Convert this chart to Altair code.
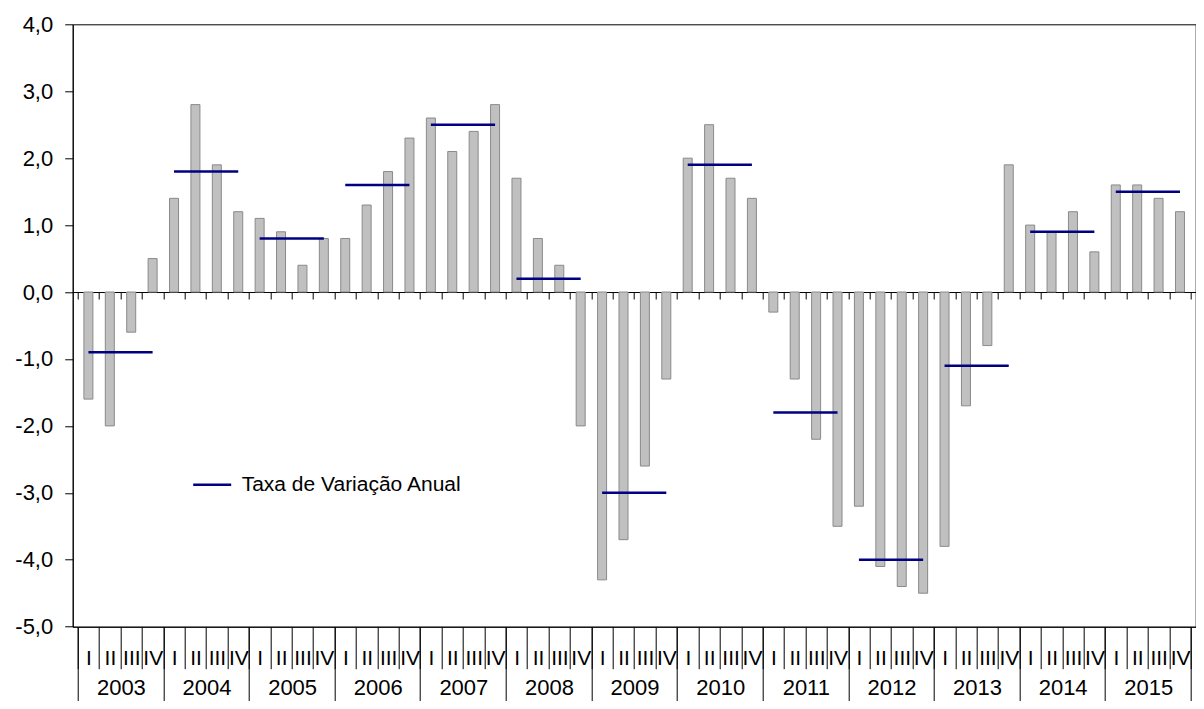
import json
import altair as alt
import pandas as pd

# ---------------- data ----------------
years = [2003, 2004, 2005, 2006, 2007, 2008, 2009, 2010, 2011, 2012, 2013, 2014, 2015]
quarter_labels = ["I", "II", "III", "IV"]
quarterly = [
    -1.6, -2.0, -0.6, 0.5,   # 2003
    1.4, 2.8, 1.9, 1.2,      # 2004
    1.1, 0.9, 0.4, 0.8,      # 2005
    0.8, 1.3, 1.8, 2.3,      # 2006
    2.6, 2.1, 2.4, 2.8,      # 2007
    1.7, 0.8, 0.4, -2.0,     # 2008
    -4.3, -3.7, -2.6, -1.3,  # 2009
    2.0, 2.5, 1.7, 1.4,      # 2010
    -0.3, -1.3, -2.2, -3.5,  # 2011
    -3.2, -4.1, -4.4, -4.5,  # 2012
    -3.8, -1.7, -0.8, 1.9,   # 2013
    1.0, 0.9, 1.2, 0.6,      # 2014
    1.6, 1.6, 1.4, 1.2,      # 2015
]
annual = [-0.9, 1.8, 0.8, 1.6, 2.5, 0.2, -3.0, 1.9, -1.8, -4.0, -1.1, 0.9, 1.5]
y_ticks = [-5, -4, -3, -2, -1, 0, 1, 2, 3, 4]
legend_label = "Taxa de Variação Anual"

# ---------------- tables ----------------
nq = len(quarterly)
bars_df = pd.DataFrame({
    "pos": [i + 0.5 for i in range(nq)],
    "valor": quarterly,
    "ano": [years[i // 4] for i in range(nq)],
    "trimestre": [quarter_labels[i % 4] for i in range(nq)],
})
annual_df = pd.DataFrame({
    "ano": years,
    "inicio": [4 * k + 0.5 for k in range(len(years))],
    "fim": [4 * k + 3.5 for k in range(len(years))],
    "taxa": annual,
    "serie": [legend_label] * len(years),
})

# ---------------- layout ----------------
W = 1123
H = 602.4
PAD = {"left": 64.7, "top": 16.3, "right": 0, "bottom": 74}
q_w = W / nq
y_min, y_max = min(y_ticks), max(y_ticks)
zero_offset = -H * (0 - y_min) / (y_max - y_min)
FONT = "Liberation Sans"

xscale = alt.Scale(domain=[0, nq], nice=False, zero=False)
yscale = alt.Scale(domain=[y_min, y_max], nice=False, zero=False)

q_expr = "datum.value < %d ? %s[datum.value %% 4] : ''" % (nq, json.dumps(quarter_labels))
yr_expr = "datum.value < %d ? %s[floor(datum.value / 4)] : ''" % (nq, json.dumps([str(y) for y in years]))

zero_axis = alt.Axis(
    orient="bottom", offset=zero_offset, values=list(range(nq + 1)),
    tickSize=7, labels=False, grid=False, title=None,
    domainColor="black", tickColor="black", domainWidth=1, tickWidth=1,
)
quarter_axis = alt.Axis(
    orient="bottom", offset=0, values=list(range(nq + 1)),
    tickSize=42, labelPadding=-21, labelOffset=q_w / 2, labelExpr=q_expr,
    labelFont=FONT, labelFontSize=21, labelColor="black",
    labelFlush=False, labelOverlap=False, labelBound=False,
    grid=False, title=None, domainColor="black", tickColor="black",
    domainWidth=1, tickWidth=1,
)
year_axis = alt.Axis(
    orient="bottom", offset=0, values=list(range(0, nq + 1, 4)),
    tickSize=PAD["bottom"], labelPadding=51 - PAD["bottom"], labelOffset=2 * q_w,
    labelExpr=yr_expr,
    labelFont=FONT, labelFontSize=22, labelColor="black",
    labelFlush=False, labelOverlap=False, labelBound=False,
    grid=False, title=None, domain=False, tickColor="black", tickWidth=1,
)
y_axis = alt.Axis(
    orient="left",
    values=y_ticks, labelExpr="(datum.value < 0 ? '-' : '') + abs(datum.value) + ',0'",
    tickSize=8, labelPadding=12, labelFont=FONT, labelFontSize=22, labelColor="black",
    labelOverlap=False, labelFlush=False,
    grid=False, title=None, domainColor="black", tickColor="black",
    domainWidth=1, tickWidth=1,
)

bars = alt.Chart(bars_df).mark_bar(
    size=9, fill="#c0c0c0", stroke="#8a8a8a", strokeWidth=1
).encode(
    x=alt.X("pos:Q", scale=xscale, axis=zero_axis),
    y=alt.Y("valor:Q", scale=yscale, axis=y_axis),
)

lines = alt.Chart(annual_df).mark_rule(strokeWidth=2.5).encode(
    x=alt.X("inicio:Q", scale=xscale, axis=quarter_axis),
    x2="fim:Q",
    y=alt.Y("taxa:Q", scale=yscale, axis=y_axis),
    color=alt.Color(
        "serie:N",
        scale=alt.Scale(range=["#000080"]),
        legend=alt.Legend(
            orient="none", legendX=119, legendY=440, title=None,
            symbolType="stroke", symbolSize=1444, symbolStrokeWidth=2.5,
            labelFont=FONT, labelFontSize=21, labelColor="black",
            labelOffset=9, padding=0, labelLimit=400,
        ),
    ),
)

year_layer = alt.Chart(bars_df).mark_point(opacity=0).encode(
    x=alt.X("pos:Q", scale=xscale, axis=year_axis),
    y=alt.Y("valor:Q", scale=yscale, axis=y_axis),
)

chart = alt.layer(bars, lines, year_layer).resolve_axis(
    x="independent", y="shared"
).properties(
    width=W, height=H,
    autosize=alt.AutoSizeParams(type="none"),
    padding=PAD,
    background="white",
).configure_view(stroke="black", strokeWidth=1)

chart.save("out.html", embed_options={"renderer": "svg", "actions": False})
